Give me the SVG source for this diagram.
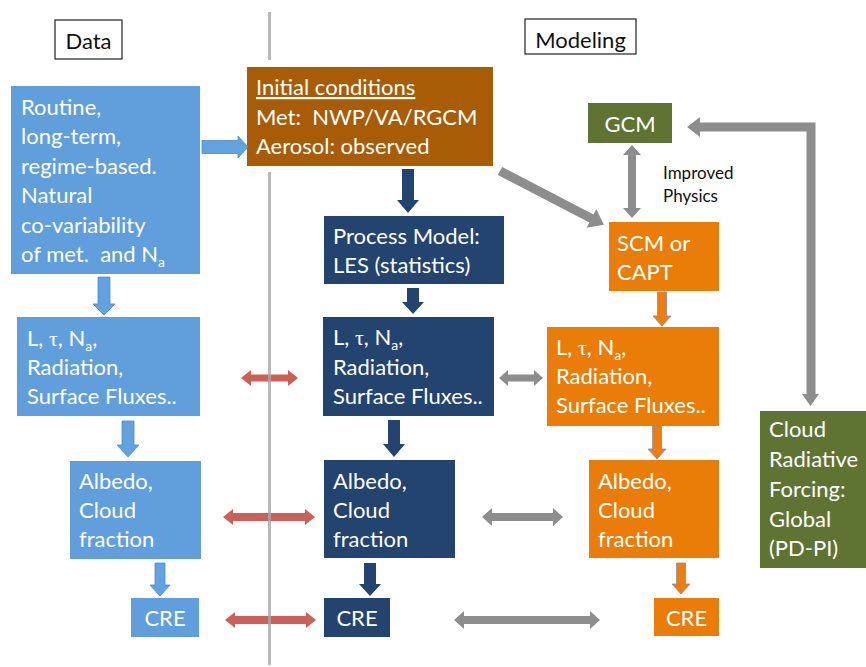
<svg xmlns="http://www.w3.org/2000/svg" width="866" height="667" viewBox="0 0 866 667">
  <defs>
    <style>
      text { font-family: "Lato", "Open Sans", sans-serif; font-size: 22px; }
      .w { fill: #ffffff; }
      .k { fill: #111111; }
      .small { font-size: 17px; }
      .tau { font-family: "Liberation Serif", serif; }
      .sub { font-size: 14px; }
      .lblue { fill: #609fdb; }
      .navy { fill: #22446e; }
      .brown { fill: #a85c06; }
      .orange { fill: #ea7d08; }
      .olive { fill: #5f7433; }
      .hdr { fill: #ffffff; stroke: #222222; stroke-width: 1.2; }
      .a-lblue { fill: #62a2de; stroke: #4d8cc8; stroke-width: 0.8; }
      .a-navy { fill: #22446e; }
      .a-orange { fill: #ef7d0d; stroke: #7f8fa8; stroke-width: 0.8; }
      .a-gray { fill: #8d8d8d; }
      .a-red { fill: #cc6057; }
      .divider { stroke: #a8a8a8; stroke-width: 3; opacity: 0.8; fill: none; }
    </style>
  </defs>

  <!-- column headers -->
  <g id="hdr-data">
    <rect class="hdr" x="55" y="20" width="67" height="39"/>
    <text class="k" x="88.5" y="49" text-anchor="middle">Data</text>
  </g>
  <g id="hdr-modeling">
    <rect class="hdr" x="525" y="19" width="111" height="35"/>
    <text class="k" x="580.5" y="48" text-anchor="middle">Modeling</text>
  </g>

  <!-- observations column -->
  <g id="routine">
    <rect class="lblue" x="11" y="86" width="189" height="188"/>
    <text class="w" x="21" y="115">Routine,</text>
    <text class="w" x="21" y="144.4">long-term,</text>
    <text class="w" x="21" y="173.8">regime-based.</text>
    <text class="w" x="21" y="203.2">Natural</text>
    <text class="w" x="21" y="232.6">co-variability</text>
    <text class="w" x="21" y="262" xml:space="preserve">of met.  and N<tspan class="sub" dy="5">a</tspan></text>
  </g>
  <g id="obs-props">
    <rect class="lblue" x="17" y="317" width="183" height="99"/>
    <text class="w" x="27" y="346">L, <tspan class="tau">τ</tspan>, N<tspan class="sub" dy="5">a</tspan><tspan dy="-5">,</tspan></text>
    <text class="w" x="27" y="375">Radiation,</text>
    <text class="w" x="27" y="404">Surface Fluxes..</text>
  </g>
  <g id="obs-albedo">
    <rect class="lblue" x="70" y="461" width="131" height="98"/>
    <text class="w" x="79" y="489">Albedo,</text>
    <text class="w" x="79" y="518">Cloud</text>
    <text class="w" x="79" y="547">fraction</text>
  </g>
  <g id="obs-cre">
    <rect class="lblue" x="131" y="598" width="68" height="39"/>
    <text class="w" x="165" y="626" text-anchor="middle">CRE</text>
  </g>

  <!-- process model column -->
  <g id="initial">
    <rect class="brown" x="247" y="67" width="246" height="99"/>
    <text class="w" x="256" y="95" text-decoration="underline">Initial conditions</text>
    <text class="w" x="256" y="125" xml:space="preserve">Met:  NWP/VA/RGCM</text>
    <text class="w" x="256" y="154">Aerosol: observed</text>
  </g>
  <g id="les">
    <rect class="navy" x="324" y="216" width="180" height="68"/>
    <text class="w" x="333" y="244">Process Model:</text>
    <text class="w" x="333" y="273">LES (statistics)</text>
  </g>
  <g id="les-props">
    <rect class="navy" x="323" y="317" width="171" height="99"/>
    <text class="w" x="333" y="345">L, <tspan class="tau">τ</tspan>, N<tspan class="sub" dy="5">a</tspan><tspan dy="-5">,</tspan></text>
    <text class="w" x="333" y="375">Radiation,</text>
    <text class="w" x="333" y="404">Surface Fluxes..</text>
  </g>
  <g id="les-albedo">
    <rect class="navy" x="324" y="460" width="131" height="98"/>
    <text class="w" x="333" y="489">Albedo,</text>
    <text class="w" x="333" y="518">Cloud</text>
    <text class="w" x="333" y="547">fraction</text>
  </g>
  <g id="les-cre">
    <rect class="navy" x="324" y="598" width="66" height="39"/>
    <text class="w" x="357" y="626" text-anchor="middle">CRE</text>
  </g>

  <!-- single column / global model column -->
  <g id="gcm">
    <rect class="olive" x="588" y="103" width="84" height="40"/>
    <text class="w" x="630" y="132" text-anchor="middle">GCM</text>
  </g>
  <g id="improved-physics">
    <text class="k small" x="663" y="179">Improved</text>
    <text class="k small" x="663" y="202">Physics</text>
  </g>
  <g id="scm">
    <rect class="orange" x="609" y="222" width="110" height="69"/>
    <text class="w" x="617" y="251">SCM or</text>
    <text class="w" x="617" y="280">CAPT</text>
  </g>
  <g id="scm-props">
    <rect class="orange" x="547" y="327" width="172" height="99"/>
    <text class="w" x="556" y="355">L, <tspan class="tau">τ</tspan>, N<tspan class="sub" dy="5">a</tspan><tspan dy="-5">,</tspan></text>
    <text class="w" x="556" y="384">Radiation,</text>
    <text class="w" x="556" y="413">Surface Fluxes..</text>
  </g>
  <g id="scm-albedo">
    <rect class="orange" x="589" y="460" width="130" height="98"/>
    <text class="w" x="598" y="489">Albedo,</text>
    <text class="w" x="598" y="518">Cloud</text>
    <text class="w" x="598" y="547">fraction</text>
  </g>
  <g id="scm-cre">
    <rect class="orange" x="654" y="598" width="65" height="38"/>
    <text class="w" x="686.5" y="626" text-anchor="middle">CRE</text>
  </g>
  <g id="crf">
    <rect class="olive" x="760" y="411" width="106" height="157"/>
    <text class="w" x="769" y="437">Cloud</text>
    <text class="w" x="769" y="467">Radiative</text>
    <text class="w" x="769" y="497">Forcing:</text>
    <text class="w" x="769" y="527">Global</text>
    <text class="w" x="769" y="556">(PD-PI)</text>
  </g>

  <!-- connectors -->
  <g id="connectors">
    <!-- observation chain (light blue) -->
    <polygon class="a-lblue" points="202,140.5 238,140.5 238,136 248,147 238,158 238,153.5 202,153.5"/>
    <polygon class="a-lblue" points="98,277 110,277 110,304 115,304 104,315 93,304 98,304"/>
    <polygon class="a-lblue" points="122,421 134,421 134,445 139,445 128,457 117,445 122,445"/>
    <polygon class="a-lblue" points="155,563 165,563 165,585 170,585 160,596 150,585 155,585"/>

    <!-- process model chain (navy) -->
    <polygon class="a-navy" points="402,169 414,169 414,200 419,200 408,213 397,200 402,200"/>
    <polygon class="a-navy" points="407,288 419,288 419,302 424,302 413,314 402,302 407,302"/>
    <polygon class="a-navy" points="388,420 400,420 400,444 405,444 394,457 383,444 388,444"/>
    <polygon class="a-navy" points="364,563 376,563 376,584 381,584 370,596 359,584 364,584"/>

    <!-- single column chain (orange) -->
    <polygon class="a-orange" points="657.5,292 666.5,292 666.5,316 671,316 662,326 653,316 657.5,316"/>
    <polygon class="a-orange" points="652.5,426 661.5,426 661.5,449 666,449 657,459 648,449 652.5,449"/>
    <polygon class="a-orange" points="676.5,563 685.5,563 685.5,584 690,584 681,594 672,584 676.5,584"/>

    <!-- initial conditions to SCM (gray, diagonal) -->
    <polygon class="a-gray" transform="translate(500,171) rotate(27.4)" points="0,-4.5 103,-4.5 103,-10.5 117,0 103,10.5 103,4.5 0,4.5"/>

    <!-- GCM <-> SCM -->
    <polygon class="a-gray" points="632,145 641,155 636,155 636,208 641,208 632,218 623,208 628,208 628,155 623,155"/>

    <!-- CRF <-> GCM feedback loop -->
    <polygon class="a-gray" points="687,127 700,117 700,122.5 815.5,122.5 815.5,394 819,394 810.5,406 802,394 806.5,394 806.5,131.5 700,131.5 700,137"/>

    <!-- cross-comparisons LES <-> SCM (gray) -->
    <polygon class="a-gray" points="499,378 508,370 508,374.5 534,374.5 534,370 543,378 534,386 534,381.5 508,381.5 508,386"/>
    <polygon class="a-gray" points="482,517 492,508 492,513 553,513 553,508 563,517 553,526 553,521 492,521 492,526"/>
    <polygon class="a-gray" points="454,620 464,611 464,616 590,616 590,611 600,620 590,629 590,624 464,624 464,629"/>

    <!-- cross-comparisons observations <-> LES (red) -->
    <polygon class="a-red" points="241,378 251,370 251,374.5 288,374.5 288,370 298,378 288,386 288,381.5 251,381.5 251,386"/>
    <polygon class="a-red" points="223,517 233,509 233,513 305,513 305,509 315,517 305,525 305,521 233,521 233,525"/>
    <polygon class="a-red" points="225,620 235,612 235,616 306,616 306,612 316,620 306,628 306,624 235,624 235,628"/>
  </g>

  <!-- divider between observations and modeling -->
  <g id="divider">
    <line class="divider" x1="269.5" y1="12" x2="269.5" y2="60"/>
    <line class="divider" x1="269.5" y1="172" x2="269.5" y2="665"/>
  </g>
</svg>
